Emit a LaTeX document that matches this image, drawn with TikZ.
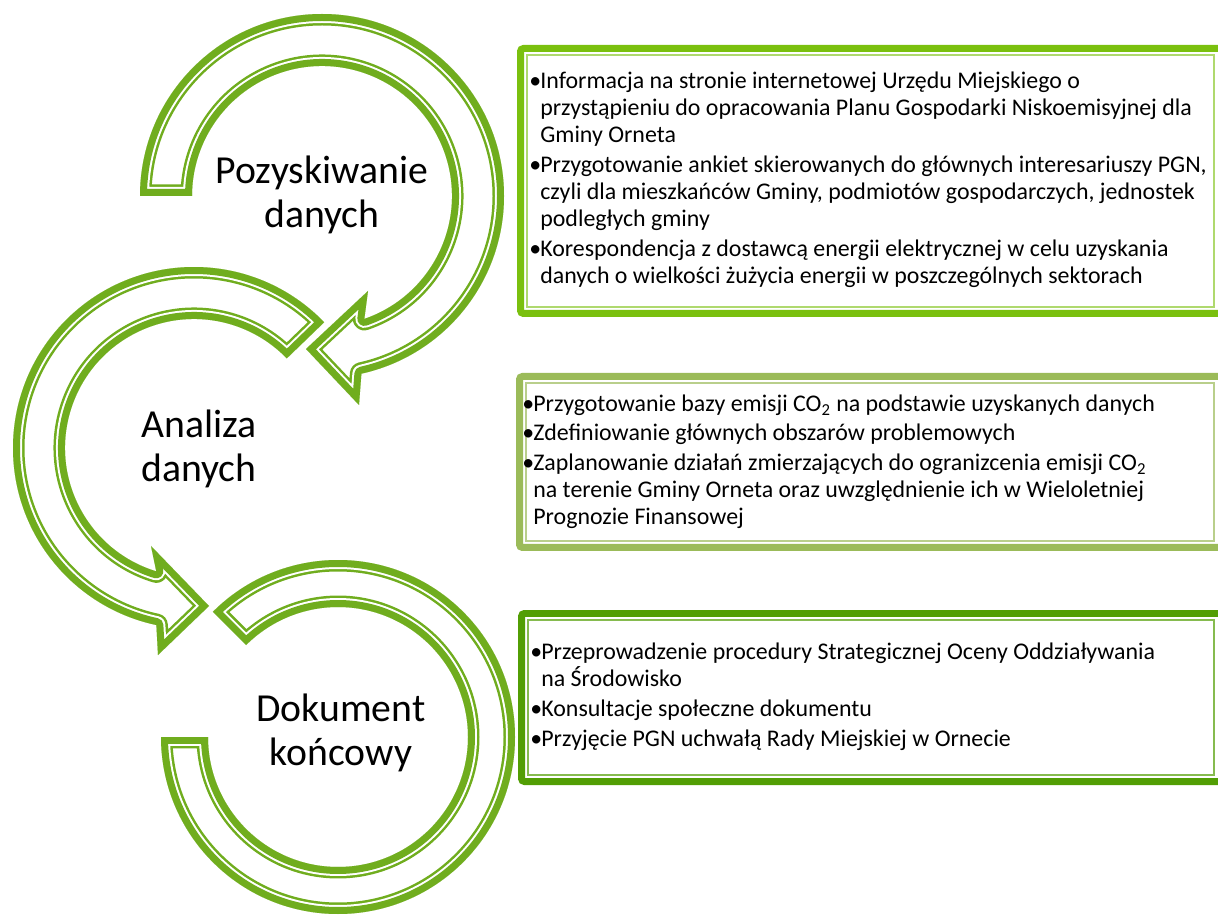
\documentclass[tikz,border=0pt]{standalone}
\usepackage{fontspec}
\setmainfont{Carlito}
\usepackage{tikz}
\usetikzlibrary{calc}
\definecolor{arrowgreen}{RGB}{112,173,30}
\definecolor{framelime}{RGB}{122,192,14}
\definecolor{frameolive}{RGB}{155,187,89}
\definecolor{frameforest}{RGB}{82,158,4}

% outline of one bent arrow: thick rim, white gap, thin rim (all inside)
\newcommand{\ringarrow}[1]{%
  \begin{scope}
    \clip #1;
    \draw[rimouter] #1;
    \draw[rimgap] #1;
    \draw[rimthick] #1;
  \end{scope}}
\newcommand{\itembul}{\makebox[0.22cm][l]{\textbullet}}
\newcommand{\itemind}{\hspace*{0.22cm}}
\newcommand{\listfont}{\fontsize{13.6pt}{15.4pt}\selectfont\setlength{\lineskiplimit}{-20pt}}

\begin{document}
\begin{tikzpicture}[
  x=0.02cm, y=-0.02cm,
  rimouter/.style={draw=arrowgreen, line width=0.46cm, line join=round},
  rimgap/.style={draw=white, line width=0.36cm, line join=round},
  rimthick/.style={draw=arrowgreen, line width=0.28cm, line join=round},
  framethick/.style={line width=0.14cm, rounded corners=0.06cm},
  framethin/.style={line width=0.03cm},
  steplabel/.style={align=center, inner sep=0pt, font=\fontsize{22.6pt}{25pt}\selectfont},
  itemlist/.style={anchor=north west, align=left, inner sep=0pt, font=\listfont}
]
\useasboundingbox (0,0) rectangle (1218,915);
\clip (0,0) rectangle (1218,915);

% Centres of the three bent arrows
\coordinate (c1) at (322,196);
\coordinate (c2) at (194,448);
\coordinate (c3) at (338,737);

% 1. Pozyskiwanie danych (clockwise, head bottom right)
\ringarrow{($(c1)+(180:182)$) arc[start angle=180, end angle=437.5, radius=182] -- (359,405) -- (306,349) -- (368,291) -- ($(c1)+(71:130)$) arc[start angle=431, end angle=180, radius=130] -- cycle}
\node[steplabel] (stepA) at (322,195) {Pozyskiwanie\\danych};

% 2. Analiza danych (anticlockwise, head bottom)
\ringarrow{($(c2)+(316:181)$) arc[start angle=316, end angle=102, radius=181] -- (158,655) -- (209,606) -- (151,546) -- ($(c2)+(107:129)$) arc[start angle=107, end angle=316, radius=129] -- cycle}
\node[steplabel] (stepB) at (199,449) {Analiza\\danych};

% 3. Dokument koncowy (open ring, no head)
\ringarrow{($(c3)+(225:177)$) arc[start angle=225, end angle=540, radius=177] -- ($(c3)+(180:130)$) arc[start angle=540, end angle=225, radius=130] -- cycle}
\node[steplabel] (stepC) at (341,733) {Dokument\\końcowy};

% Box 1
\draw[framethick, draw=framelime] (520.5,48.5) rectangle (1230,313.5);
\draw[framethin, draw=framelime!60] (527,55) rectangle (1214,307);
\node[itemlist] (listA) at (529,69) {\strut\itembul Informacja na stronie internetowej Urzędu Miejskiego o\\
\itemind przystąpieniu do opracowania Planu Gospodarki Niskoemisyjnej dla\\
\itemind Gminy Orneta\\[0.06cm]
\itembul Przygotowanie ankiet skierowanych do głównych interesariuszy PGN,\\
\itemind czyli dla mieszkańców Gminy, podmiotów gospodarczych, jednostek\\
\itemind podległych gminy\\[0.06cm]
\itembul Korespondencja z dostawcą energii elektrycznej w celu uzyskania\\
\itemind danych o wielkości żużycia energii w poszczególnych sektorach};

% Box 2
\draw[framethick, draw=frameolive] (519.5,376.5) rectangle (1230,547.5);
\draw[framethin, draw=frameolive!70] (526,383) rectangle (1214,541);
\node[itemlist] (listB) at (522,392) {\strut\itembul Przygotowanie bazy emisji CO\textsubscript{2} na podstawie uzyskanych danych\\[0.05cm]
\itembul Zdefiniowanie głównych obszarów problemowych\\[0.05cm]
\itembul Zaplanowanie działań zmierzających do ogranizcenia emisji CO\textsubscript{2}\\
\itemind na terenie Gminy Orneta oraz uwzględnienie ich w Wieloletniej\\
\itemind Prognozie Finansowej};

% Box 3
\draw[framethick, draw=frameforest] (521.5,613.5) rectangle (1230,781.5);
\draw[framethin, draw=frameforest!70] (528,620) rectangle (1214,775);
\node[itemlist] (listC) at (530,640) {\strut\itembul Przeprowadzenie procedury Strategicznej Oceny Oddziaływania\\
\itemind na Środowisko\\[0.06cm]
\itembul Konsultacje społeczne dokumentu\\[0.06cm]
\itembul Przyjęcie PGN uchwałą Rady Miejskiej w Ornecie};

\end{tikzpicture}
\end{document}
